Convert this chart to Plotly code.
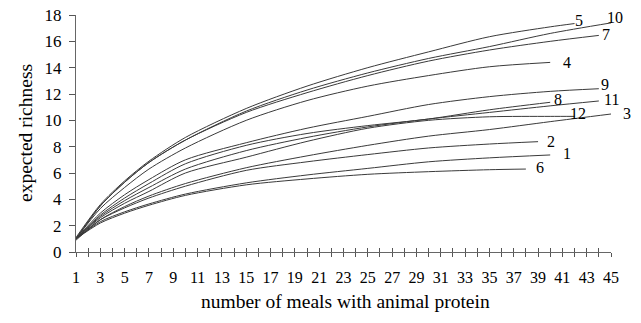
import plotly.graph_objects as go

# ---- data ----
curve_names = ["1", "2", "3", "4", "5", "6", "7", "8", "9", "10", "11", "12"]

x_1 = [1, 3, 5, 7, 10, 15, 20, 25, 30, 35, 40]
y_1 = [1.0, 2.3, 3.05, 3.65, 4.4, 5.25, 5.85, 6.35, 6.85, 7.15, 7.37]

x_2 = [1, 3, 5, 7, 10, 15, 20, 25, 30, 35, 39]
y_2 = [1.0, 2.45, 3.35, 4.1, 5.0, 6.2, 6.85, 7.4, 7.9, 8.2, 8.38]

x_3 = [1, 3, 5, 7, 10, 15, 20, 25, 30, 35, 40, 45]
y_3 = [0.9, 2.45, 3.45, 4.25, 5.2, 6.4, 7.3, 8.1, 8.8, 9.3, 9.9, 10.48]

x_4 = [1, 3, 5, 7, 10, 15, 20, 25, 30, 35, 40]
y_4 = [1.0, 3.3, 4.9, 6.3, 7.9, 10.0, 11.5, 12.6, 13.4, 14.07, 14.4]

x_5 = [1, 3, 5, 7, 10, 15, 20, 25, 30, 35, 40, 42]
y_5 = [1.1, 3.6, 5.4, 6.9, 8.7, 10.9, 12.6, 14.0, 15.2, 16.35, 17.1, 17.35]

x_6 = [1, 3, 5, 7, 10, 15, 20, 25, 30, 35, 38]
y_6 = [1.0, 2.2, 2.95, 3.55, 4.3, 5.1, 5.55, 5.9, 6.1, 6.25, 6.3]

x_7 = [1, 3, 5, 7, 10, 15, 20, 25, 30, 35, 40, 44]
y_7 = [1.0, 3.5, 5.3, 6.8, 8.5, 10.6, 12.1, 13.4, 14.5, 15.34, 16.0, 16.45]

x_8 = [1, 3, 5, 7, 10, 15, 20, 25, 30, 35, 40]
y_8 = [1.0, 2.8, 4.1, 5.2, 6.7, 8.1, 9.0, 9.6, 10.1, 10.8, 11.37]

x_9 = [1, 3, 5, 7, 10, 15, 20, 25, 30, 35, 40, 44]
y_9 = [1.0, 2.95, 4.35, 5.5, 7.0, 8.3, 9.4, 10.3, 11.2, 11.8, 12.2, 12.4]

x_10 = [1, 3, 5, 7, 10, 15, 20, 25, 30, 35, 40, 45]
y_10 = [1.0, 3.5, 5.3, 6.8, 8.5, 10.7, 12.3, 13.6, 14.7, 15.6, 16.6, 17.4]

x_11 = [1, 3, 5, 7, 10, 15, 20, 25, 30, 35, 40, 44]
y_11 = [1.0, 2.7, 3.9, 4.9, 6.3, 7.7, 8.7, 9.5, 10.1, 10.6, 11.1, 11.47]

x_12 = [1, 3, 5, 7, 10, 15, 20, 25, 30, 35, 40, 42]
y_12 = [1.0, 2.6, 3.7, 4.6, 6.0, 7.2, 8.4, 9.4, 10.0, 10.27, 10.3, 10.3]

xs = [x_1, x_2, x_3, x_4, x_5, x_6, x_7, x_8, x_9, x_10, x_11, x_12]
ys = [y_1, y_2, y_3, y_4, y_5, y_6, y_7, y_8, y_9, y_10, y_11, y_12]

x_ticks = list(range(1, 46))
x_ticklabels = [str(v) if v % 2 == 1 else "" for v in x_ticks]
y_ticks = list(range(0, 19, 2))

X_MIN, X_MAX, Y_MIN, Y_MAX = 1, 45, 0, 18

# label placement (layout, in data units; converted to paper coords below)
label_pos = {
    "1": (41.4, 7.45), "2": (40.1, 8.4), "3": (46.3, 10.5), "4": (41.35, 14.4),
    "5": (42.4, 17.6), "6": (39.2, 6.4), "7": (44.6, 16.55), "8": (40.6, 11.6),
    "9": (44.5, 12.75), "10": (45.3, 17.8), "11": (45.05, 11.6), "12": (42.3, 10.55),
}

FONT = "Liberation Serif, Times New Roman, serif"

fig = go.Figure()
for name, xv, yv in zip(curve_names, xs, ys):
    fig.add_trace(go.Scatter(x=xv, y=yv, mode="lines", name=name,
                             line=dict(color="#3a3a3a", width=1, shape="spline", smoothing=0.8),
                             showlegend=False, hoverinfo="skip"))

# invisible trace for overlay axis (inside ticks -> crossing tick marks)
fig.add_trace(go.Scatter(x=[X_MIN, X_MAX], y=[0, 0], xaxis="x2", mode="lines",
                         line=dict(width=0), showlegend=False, hoverinfo="skip"))

annotations = []
for name in curve_names:
    lx, ly = label_pos[name]
    annotations.append(dict(x=(lx - X_MIN) / (X_MAX - X_MIN), y=(ly - Y_MIN) / (Y_MAX - Y_MIN),
                            xref="paper", yref="paper", text=name, showarrow=False,
                            xanchor="center", yanchor="middle",
                            font=dict(family=FONT, size=16, color="black")))

# body margin is removed in the page (post_script), so figure coords == window coords
W, H = 641, 323
L, T = 76, 15
R = W - 611
B = H - 252
pw, ph = W - L - R, H - T - B


def px_to_paper(vx, vy):
    return (vx - L) / pw, (252 - vy) / ph


tx, ty = px_to_paper(345, 301)
annotations.append(dict(x=tx, y=ty, xref="paper", yref="paper",
                        text="number of meals with animal protein", showarrow=False,
                        xanchor="center", yanchor="middle",
                        font=dict(family=FONT, size=19.5, color="black")))
tx, ty = px_to_paper(25, 133)
annotations.append(dict(x=tx, y=ty, xref="paper", yref="paper",
                        text="expected richness", showarrow=False, textangle=-90,
                        xanchor="center", yanchor="middle",
                        font=dict(family=FONT, size=19.5, color="black")))

fig.update_layout(
    width=W, height=H,
    margin=dict(l=L, r=R, t=T, b=B, autoexpand=False),
    paper_bgcolor="white", plot_bgcolor="white",
    annotations=annotations,
    hovermode=False,
    xaxis=dict(range=[X_MIN, X_MAX], tickmode="array", tickvals=x_ticks, ticktext=x_ticklabels,
               ticks="outside", ticklen=4, tickcolor="#555", tickwidth=1,
               showline=True, linecolor="#666", linewidth=1, showgrid=False, zeroline=False,
               tickfont=dict(family=FONT, size=16, color="black"),
               ticklabelstandoff=7, ticklabeloverflow="allow", fixedrange=True),
    xaxis2=dict(range=[X_MIN, X_MAX], overlaying="x", anchor="y", side="bottom",
                tickmode="array", tickvals=x_ticks, showticklabels=False,
                ticks="inside", ticklen=4, tickcolor="#555", tickwidth=1,
                showline=False, showgrid=False, zeroline=False, fixedrange=True),
    yaxis=dict(range=[Y_MIN, Y_MAX], tickmode="array", tickvals=y_ticks,
               ticks="outside", ticklen=6, tickcolor="#555", tickwidth=1,
               showline=True, linecolor="#666", linewidth=1, showgrid=False, zeroline=False,
               tickfont=dict(family=FONT, size=17, color="black"),
               ticklabelstandoff=4, ticklabeloverflow="allow", fixedrange=True),
)

fig.write_html("out.html",
               config={"displayModeBar": False, "staticPlot": True},
               post_script="document.body.style.margin='0';document.body.style.overflow='hidden';")
